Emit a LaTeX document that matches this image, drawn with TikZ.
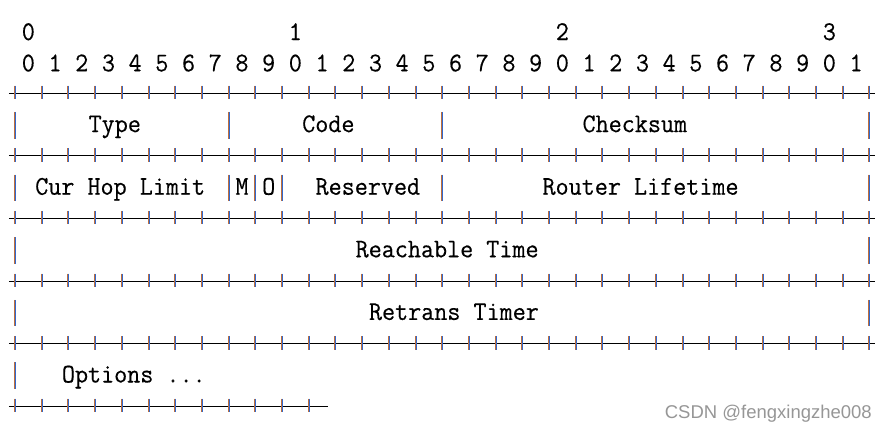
\documentclass[tikz,border=0pt]{standalone}
\usepackage{fontspec}
\usepackage{xcolor}
\usepackage{tikz}
\newfontfamily\pktmono[FakeStretch=0.94,FakeBold=0.35]{Latin Modern Mono}
\newfontfamily\marksans{Liberation Sans}
\definecolor{barorange}{RGB}{190,110,60}
\definecolor{barblue}{RGB}{50,105,205}
\definecolor{markgray}{RGB}{150,150,150}

\begin{document}
\begin{tikzpicture}[x=13.35pt,y=-31.3pt,lbl/.style={anchor=base west,inner sep=0pt,yshift=1.8pt,font=\fontsize{27}{27}\pktmono},num/.style={anchor=base,inner sep=0pt,font=\fontsize{27}{27}\pktmono},rule/.style={draw=black,line width=1pt},barL/.style={draw=barorange,line width=1pt,xshift=-0.5pt},barR/.style={draw=barblue,line width=1pt,xshift=0.5pt}]
\useasboundingbox (-15pt,40pt) rectangle (873pt,-394pt);
% bit numbers
\foreach \t in {0,1,2,3} \node[num] (t\t) at (20*\t+1,0) {\t};
\foreach \i in {0,...,31} {\pgfmathtruncatemacro\d{mod(\i,10)}\node[num] (d\i) at (2*\i+1,1) {\d};}
% +-+-+ rows
\foreach \r/\n/\e in {2/32/64.45,4/32/64.45,6/32/64.45,8/32/64.45,10/32/64.45,12/11/23.45} {
  \draw[rule] (-0.45,\r-0.3) -- (\e,\r-0.3);
  \foreach \k in {0,...,\n} {
    \draw[barL] (2*\k,\r-0.54) -- (2*\k,\r-0.11);
    \draw[barR] (2*\k,\r-0.54) -- (2*\k,\r-0.11);
  }
}
% field bars
\foreach \c/\r in {0/3,16/3,32/3,64/3,0/5,16/5,18/5,20/5,32/5,64/5,0/7,64/7,0/9,64/9,0/11} {
  \draw[barL] (\c,\r-0.7) -- (\c,\r+0.15);
  \draw[barR] (\c,\r-0.7) -- (\c,\r+0.15);
}
% fields
\node[lbl] (type) at (5.5,3) {Type};
\node[lbl] (code) at (21.5,3) {Code};
\node[lbl] (checksum) at (42.5,3) {Checksum};
\node[lbl] (hoplimit) at (1.5,5) {Cur Hop Limit};
\node[lbl] (mflag) at (16.5,5) {M};
\node[lbl] (oflag) at (18.5,5) {O};
\node[lbl] (reserved) at (22.5,5) {Reserved};
\node[lbl] (lifetime) at (39.5,5) {Router Lifetime};
\node[lbl] (reachable) at (25.5,7) {Reachable Time};
\node[lbl] (retrans) at (26.5,9) {Retrans Timer};
\node[lbl] (options) at (3.5,11) {Options ...};
\node[anchor=base east,inner sep=0pt,font=\fontsize{18.5}{18.5}\marksans,text=markgray] (mark) at (857pt,-378pt) {CSDN @fengxingzhe008};
\end{tikzpicture}
\end{document}
